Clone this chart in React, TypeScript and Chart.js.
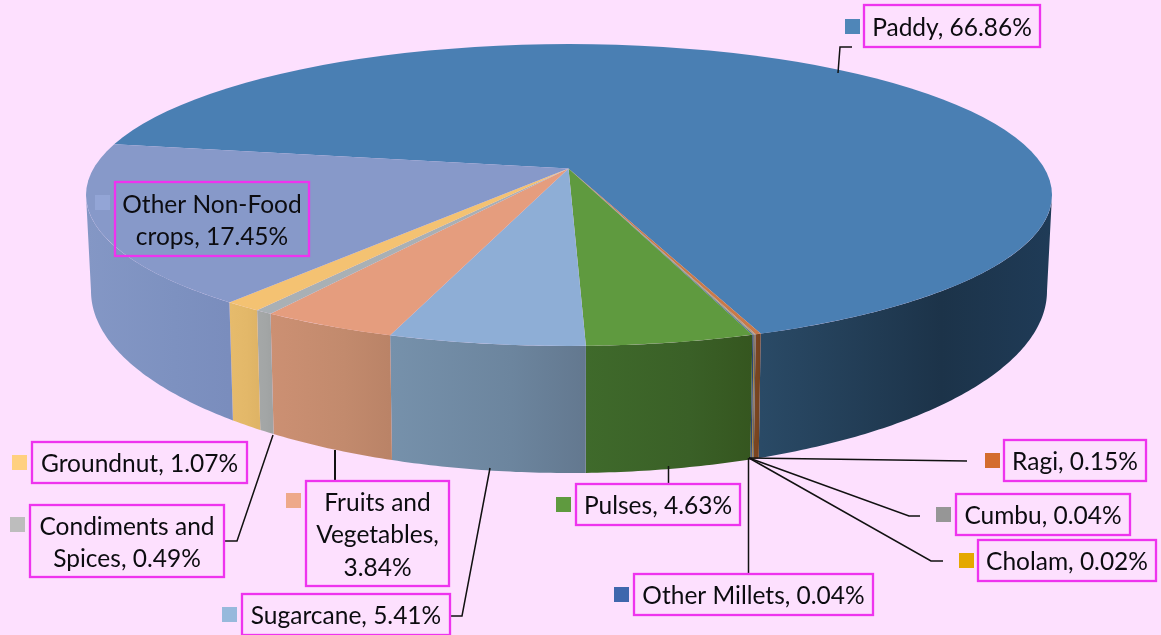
import React, { useEffect, useRef } from "react";
import { Chart, registerables } from "chart.js";

Chart.register(...registerables);

const categories = ["Paddy", "Ragi", "Cumbu", "Cholam", "Other Millets", "Pulses", "Sugarcane", "Fruits and Vegetables", "Condiments and Spices", "Groundnut", "Other Non-Food crops"];
const shares = [66.86, 0.15, 0.04, 0.02, 0.04, 4.63, 5.41, 3.84, 0.49, 1.07, 17.45];
const topColors = ["#4a7fb3", "#c97a48", "#969696", "#e5a800", "#3f67ad", "#5f9a3f", "#8eaed6", "#e59d7e", "#a9b0b5", "#f4c272", "#8799c9"];
const wallLeft = ["#2a4a66", "#7a4520", "#666666", "#9a7000", "#2a4575", "#3f6a2b", "#7691ab", "#cc9073", "#a5a8a8", "#e6bb6c", "#8497c5"];
const wallMid = ["#1c3349", "#754320", "#666666", "#9a7000", "#2a4575", "#3a6027", "#6c859e", "#c28a6d", "#a3a6a6", "#e3b869", "#7d91c0"];
const wallRight = ["#1f3b57", "#70401e", "#666666", "#9a7000", "#2a4575", "#35561f", "#63788f", "#ba8367", "#a0a3a3", "#dfb466", "#7a8dbd"];
const keyColors = ["#4f86b8", "#d46c2e", "#969696", "#e5a800", "#3f67ad", "#5f9a3f", "#97b9dc", "#eea98a", "#bdbdbd", "#ffd080", "#93a5d6"];
const labelLines = [["Paddy, 66.86%"], ["Ragi, 0.15%"], ["Cumbu, 0.04%"], ["Cholam, 0.02%"], ["Other Millets, 0.04%"], ["Pulses, 4.63%"], ["Sugarcane, 5.41%"], ["Fruits and", "Vegetables,", "3.84%"], ["Condiments and", "Spices, 0.49%"], ["Groundnut, 1.07%"], ["Other Non-Food", "crops, 17.45%"]];

// layout of the label boxes: x, y, w, h, key x, key y
const boxes = [
  [864, 5, 176, 42, 845, 19], [1004, 440, 142, 41, 985, 453], [956, 494, 174, 41, 936, 507],
  [978, 540, 178, 41, 959, 553], [634, 574, 239, 41, 614, 587], [576, 484, 164, 41, 556, 497],
  [242, 594, 208, 41, 222, 607], [306, 481, 143, 105, 286, 493], [30, 505, 194, 72, 10, 517],
  [32, 442, 215, 41, 12, 455], [115, 182, 194, 74, 95, 195],
];
const leaders = [
  [[838, 73], [840, 47], [852, 47]], [[749, 458], [967, 461]], [[749, 458], [909, 516], [920, 516]],
  [[749, 458], [931, 561], [943, 561]], [[748.5, 458], [748.5, 574]], [[668.5, 466], [668.5, 484]],
  [[490, 468], [462, 616], [451, 616]], [[335, 450], [335, 481]], [[273, 435], [237, 541], [224, 541]],
  [], [],
];
const leaderWidths = [1.5, 1.5, 1.5, 1.5, 1.5, 1.5, 1.5, 2, 1.5, 0, 0];
const ROTATION = 280.05;
const APEX = [568.5, 168.5];
const TOP = { cx: 569, cy: 195, rx: 483, ry: 151 };
const BOTTOM = { cx: 569, cy: 291, rx: 478, ry: 182 };
const SX = 2;
const SY = 0.6;

function edgeTheta(a: number) {
  const dx = Math.cos(a) * SX, dy = Math.sin(a) * SY;
  const ox = (APEX[0] - TOP.cx) / TOP.rx, oy = (APEX[1] - TOP.cy) / TOP.ry;
  const ux = dx / TOP.rx, uy = dy / TOP.ry;
  const A = ux * ux + uy * uy, B = 2 * (ox * ux + oy * uy), C = ox * ox + oy * oy - 1;
  const t = (-B + Math.sqrt(B * B - 4 * A * C)) / (2 * A);
  const th = Math.atan2(oy + uy * t, ox + ux * t);
  return th < 0 ? th + Math.PI * 2 : th;
}

const pie3d = {
  id: "pie3d",
  beforeDatasetsDraw(chart: any) {
    const ctx = chart.ctx;
    const arcs = chart.getDatasetMeta(0).data;
    arcs.forEach((arc: any, i: number) => {
      let s = edgeTheta(arc.startAngle);
      let e = edgeTheta(arc.endAngle);
      if (e < s) e += Math.PI * 2;
      const spans = [[s, e], [s - Math.PI * 2, e - Math.PI * 2]];
      spans.forEach(([a, b]) => {
        const from = Math.max(a, 0), to = Math.min(b, Math.PI);
        if (to <= from) return;
        const n = Math.max(2, Math.ceil((to - from) * 80));
        const x1 = TOP.cx + TOP.rx * Math.cos(to), x2 = TOP.cx + TOP.rx * Math.cos(from);
        const g = ctx.createLinearGradient(x1, 0, x2, 0);
        g.addColorStop(0, wallLeft[i]);
        g.addColorStop(0.62, wallMid[i]);
        g.addColorStop(1, wallRight[i]);
        ctx.beginPath();
        for (let k = 0; k <= n; k++) {
          const th = from + ((to - from) * k) / n;
          ctx.lineTo(TOP.cx + TOP.rx * Math.cos(th), TOP.cy + TOP.ry * Math.sin(th));
        }
        for (let k = n; k >= 0; k--) {
          const th = from + ((to - from) * k) / n;
          ctx.lineTo(BOTTOM.cx + BOTTOM.rx * Math.cos(th), BOTTOM.cy + BOTTOM.ry * Math.sin(th));
        }
        ctx.closePath();
        ctx.fillStyle = g;
        ctx.fill();
      });
    });
    const c = arcs[0];
    ctx.save();
    ctx.beginPath();
    ctx.ellipse(TOP.cx, TOP.cy, TOP.rx, TOP.ry, 0, 0, Math.PI * 2);
    ctx.clip();
    ctx.translate(APEX[0], APEX[1]);
    ctx.scale(SX, SY);
    ctx.translate(-c.x, -c.y);
  },
  afterDatasetsDraw(chart: any) {
    chart.ctx.restore();
  },
  afterDraw(chart: any) {
    const ctx = chart.ctx;
    ctx.save();
    ctx.strokeStyle = "#111111";
    leaders.forEach((pts, j) => {
      if (!pts.length) return;
      ctx.lineWidth = leaderWidths[j];
      ctx.beginPath();
      pts.forEach((p, i) => (i ? ctx.lineTo(p[0], p[1]) : ctx.moveTo(p[0], p[1])));
      ctx.stroke();
    });
    ctx.font = "24.5px Lato";
    ctx.textAlign = "center";
    ctx.textBaseline = "middle";
    boxes.forEach((b, i) => {
      ctx.fillStyle = keyColors[i];
      ctx.fillRect(b[4], b[5], 15, 15);
      ctx.strokeStyle = "#ee33ee";
      ctx.lineWidth = 2.3;
      ctx.strokeRect(b[0], b[1], b[2], b[3]);
      ctx.fillStyle = "#0c0c10";
      const lines = labelLines[i];
      const mid = b[1] + b[3] / 2 + 2;
      lines.forEach((t, k) => ctx.fillText(t, b[0] + b[2] / 2, mid + (k - (lines.length - 1) / 2) * 32.5));
    });
    ctx.restore();
  },
};

export default function App() {
  const ref = useRef<HTMLCanvasElement>(null);
  useEffect(() => {
    document.body.style.margin = "0";
    document.body.style.background = "#fde0fe";
    const chart = new Chart(ref.current!, {
      type: "pie",
      data: {
        labels: categories,
        datasets: [{ data: shares, backgroundColor: topColors, borderWidth: 0, clip: false } as any],
      },
      options: {
        responsive: false,
        animation: false,
        rotation: ROTATION,
        layout: { padding: 0 },
        events: [],
        plugins: { legend: { display: false }, tooltip: { enabled: false }, title: { display: false } },
      },
      plugins: [pie3d],
    });
    return () => chart.destroy();
  }, []);
  return (
    <div style={{ width: 1161, height: 635, background: "#fde0fe", overflow: "hidden" }}>
      <canvas ref={ref} width={1161} height={635} style={{ display: "block" }} />
    </div>
  );
}
